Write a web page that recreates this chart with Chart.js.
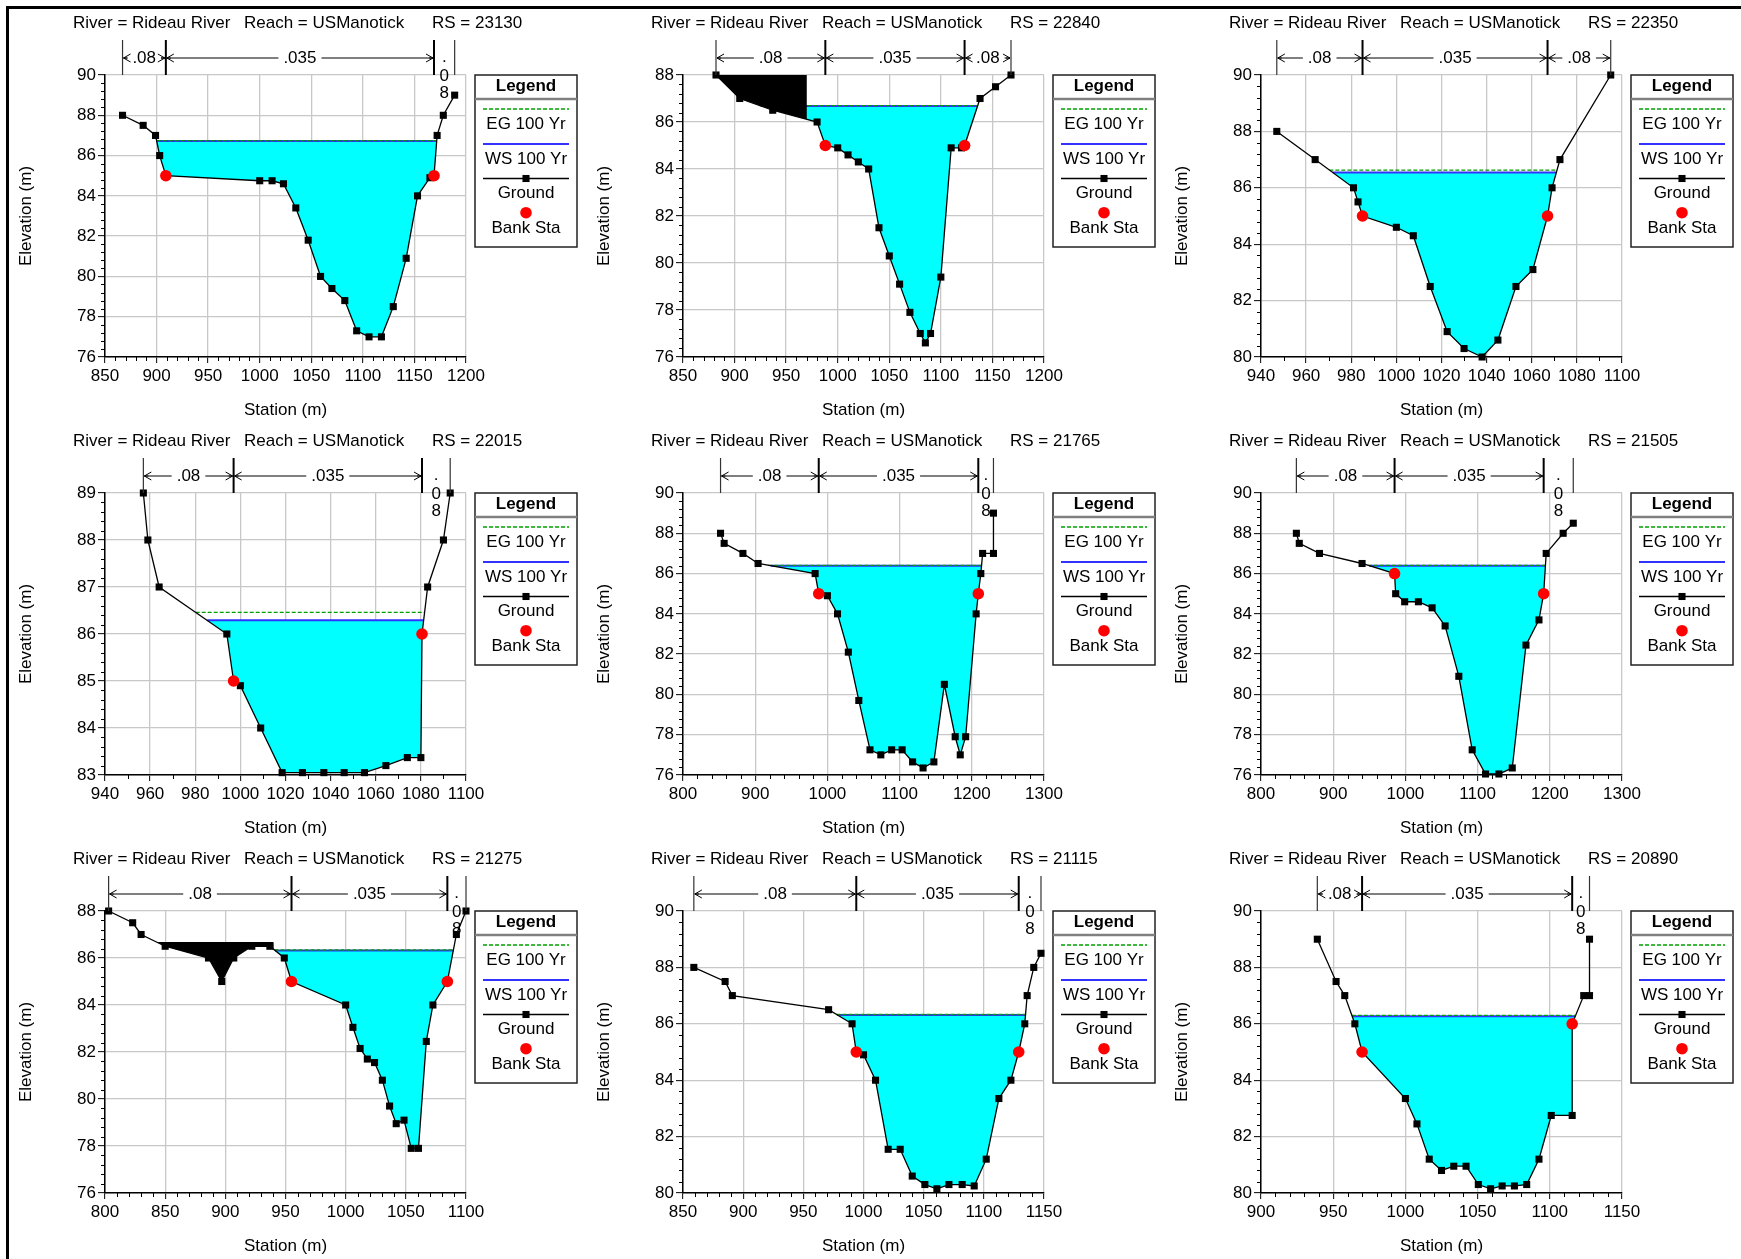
<!DOCTYPE html>
<html lang="en">
<head>
<meta charset="UTF-8">
<title>Rideau River - USManotick cross sections</title>
<script src="https://cdn.jsdelivr.net/npm/chart.js"></script>
<style>
  html, body { margin: 0; padding: 0; background: #fff; }
  #sheet { position: relative; width: 1741px; height: 1259px; overflow: hidden; background: #fff; }
  #frame { position: absolute; left: 6px; top: 6px; width: 1760px; height: 1280px; border-left: 3px solid #000; border-top: 3px solid #000; }
  #sheet canvas { position: absolute; }
</style>
</head>
<body>
<div id="sheet"><div id="frame"></div></div>
<script>
const river = 'Rideau River';
const reach = 'USManotick';
const rsList = ['23130', '22840', '22350', '22015', '21765', '21505', '21275', '21115', '20890'];

// ground profiles, [station, elevation] in m
const ground23130 = [[867, 88], [887, 87.5], [899, 87], [903, 86], [909, 85], [1000, 84.75], [1012, 84.75], [1023, 84.6], [1035, 83.4], [1047, 81.8], [1059, 80], [1070, 79.4], [1082.5, 78.8], [1094, 77.3], [1106, 77], [1118, 77], [1129.5, 78.5], [1142, 80.9], [1153, 84], [1165, 84.9], [1169, 85], [1172, 87], [1178, 88], [1189, 89]];
const ground22840 = [[882, 88], [905, 87], [937, 86.5], [980, 86], [988, 85], [1000, 84.9], [1010, 84.6], [1020, 84.3], [1030, 84], [1040, 81.5], [1050, 80.3], [1060, 79.1], [1070, 77.9], [1080, 77], [1085, 76.6], [1090, 77], [1100, 79.4], [1110, 84.9], [1120, 84.9], [1123, 85], [1138, 87], [1153, 87.5], [1168, 88]];
const ground22350 = [[947, 88], [964, 87], [981, 86], [983, 85.5], [985, 85], [1000, 84.6], [1007.5, 84.3], [1015, 82.5], [1022.5, 80.9], [1030, 80.3], [1038, 80], [1045, 80.6], [1053, 82.5], [1060.5, 83.1], [1067, 85], [1069, 86], [1072.5, 87], [1095, 90]];
const ground22015 = [[957, 89], [959, 88], [964, 87], [994, 86], [997, 85], [1000, 84.9], [1009, 84], [1018.5, 83.05], [1027.5, 83.05], [1037, 83.05], [1046, 83.05], [1055, 83.05], [1064.5, 83.2], [1074, 83.37], [1080, 83.37], [1080.5, 86], [1083, 87], [1090, 88], [1093, 89]];
const ground21765 = [[852, 88], [857, 87.5], [883, 87], [904, 86.5], [983, 86], [988, 85], [1000, 84.9], [1014, 84], [1029, 82.1], [1043.5, 79.7], [1059, 77.25], [1074, 77], [1089, 77.25], [1103.5, 77.25], [1118, 76.65], [1132.5, 76.35], [1147.5, 76.65], [1162, 80.5], [1177, 77.9], [1184, 77], [1191.5, 77.9], [1206, 84], [1209, 85], [1212.5, 86], [1215, 87], [1230, 87], [1230, 89]];
const ground21505 = [[849, 88], [853, 87.5], [881, 87], [940, 86.5], [985, 86], [986.5, 85], [999, 84.6], [1018, 84.6], [1037, 84.3], [1055, 83.4], [1074, 80.9], [1092.5, 77.25], [1111, 76.05], [1129.5, 76.05], [1148, 76.35], [1167, 82.45], [1185, 83.7], [1191.5, 85], [1195, 87], [1218.5, 88], [1232.5, 88.5]];
const ground21275 = [[803, 88], [823, 87.5], [830, 87], [850, 86.5], [886, 86], [897, 85], [907, 86], [922, 86.5], [937, 86.5], [949, 86], [955, 85], [1000, 84], [1006, 83.05], [1012, 82.15], [1018, 81.7], [1024, 81.55], [1030.5, 80.8], [1036.5, 79.7], [1042, 78.95], [1048.5, 79.1], [1054.5, 77.9], [1060.5, 77.9], [1067, 82.45], [1072.5, 84], [1084.5, 85], [1092, 87], [1100, 88]];
const ground21115 = [[859, 88], [885, 87.5], [891, 87], [971, 86.5], [990.5, 86], [994, 85], [1000, 84.9], [1010, 84], [1020.5, 81.55], [1030.5, 81.55], [1040.5, 80.6], [1051, 80.3], [1061, 80.15], [1071, 80.3], [1082, 80.3], [1092, 80.25], [1102, 81.2], [1112.5, 83.35], [1122.5, 84], [1129, 85], [1134, 86], [1136, 87], [1141.5, 88], [1147.5, 88.5]];
const ground20890 = [[939, 89], [952, 87.5], [958, 87], [965, 86], [970, 85], [1000, 83.35], [1008, 82.45], [1016.5, 81.2], [1025, 80.8], [1033.5, 80.95], [1042, 80.95], [1050.5, 80.3], [1059, 80.15], [1067, 80.25], [1075.5, 80.25], [1084, 80.3], [1092.5, 81.2], [1101, 82.75], [1115.5, 82.75], [1115.5, 86], [1123.5, 87], [1127.5, 87], [1127.5, 89]];
const grounds = [ground23130, ground22840, ground22350, ground22015, ground21765, ground21505, ground21275, ground21115, ground20890];

// left / right bank stations, [station, elevation]
const banks = [
  [[909, 85], [1169, 85]],
  [[988, 85], [1123, 85]],
  [[985, 85], [1067, 85]],
  [[997, 85], [1080.5, 86]],
  [[988, 85], [1209, 85]],
  [[985, 86], [1191.5, 85]],
  [[955, 85], [1084.5, 85]],
  [[994, 85], [1129, 85]],
  [[970, 85], [1115.5, 86]]
];

// 100 yr water surface and energy grade elevations
const wsElev = [86.72, 86.68, 86.54, 86.29, 86.39, 86.39, 86.32, 86.31, 86.27];
const egElev = [86.74, 86.70, 86.63, 86.46, 86.41, 86.41, 86.34, 86.33, 86.30];

// Manning's n: left overbank, channel, right overbank
const nValues = ['.08', '.035', '.08'];

// ineffective flow areas [from station, to station, elevation]
const ineffective = [null, [882, 970, 88], null, null, null, null, [842, 940, 86.68], null, null];

// axis ranges, major and minor tick spacing
const xMin = [850, 850, 940, 940, 800, 800, 800, 850, 900];
const xMax = [1200, 1200, 1100, 1100, 1300, 1300, 1100, 1150, 1150];
const xStep = [50, 50, 20, 20, 100, 100, 50, 50, 50];
const xMinor = [10, 10, 10, 10, 20, 20, 10, 10, 10];
const yMin = [76, 76, 80, 83, 76, 76, 76, 80, 80];
const yMax = [90, 88, 90, 89, 90, 90, 88, 90, 90];
const yStep = [2, 2, 2, 1, 2, 2, 2, 2, 2];
const yMinor = [0.4, 0.4, 0.4, 0.2, 0.4, 0.4, 0.4, 0.4, 0.4];

const FAMILY = "'Liberation Sans', Arial, sans-serif";
const FONT = "17px " + FAMILY;
const PANEL_W = 578, PANEL_H = 418;

// station where segment a-b of the ground reaches elevation z
function crossAt(g, a, b, z) {
  const [x1, y1] = g[a], [x2, y2] = g[b];
  if (y1 === y2) return x1;
  return x1 + (z - y1) / (y2 - y1) * (x2 - x1);
}

// wetted extent for a level z, walking out from the lowest ground point
function wetted(g, z) {
  let lo = 0;
  g.forEach((p, k) => { if (p[1] < g[lo][1]) lo = k; });
  let a = lo, b = lo;
  while (a > 0 && g[a - 1][1] < z) a--;
  while (b < g.length - 1 && g[b + 1][1] < z) b++;
  const left = a > 0 ? crossAt(g, a - 1, a, z) : g[0][0];
  const right = b < g.length - 1 ? crossAt(g, b, b + 1, z) : g[g.length - 1][0];
  return { left, right, inner: g.slice(a, b + 1) };
}

function groundAt(g, x) {
  for (let k = 1; k < g.length; k++) {
    if (g[k][0] >= x) {
      const [x1, y1] = g[k - 1], [x2, y2] = g[k];
      return x2 === x1 ? y2 : y1 + (x - x1) / (x2 - x1) * (y2 - y1);
    }
  }
  return g[g.length - 1][1];
}

const pt = ([x, y]) => ({ x, y });

function hline(ctx, x0, x1, y) { ctx.beginPath(); ctx.moveTo(x0, y); ctx.lineTo(x1, y); ctx.stroke(); }
function vline(ctx, x, y0, y1) { ctx.beginPath(); ctx.moveTo(x, y0); ctx.lineTo(x, y1); ctx.stroke(); }
function arrowHead(ctx, x, y, dir) {
  ctx.beginPath();
  ctx.moveTo(x + dir * 8, y - 4);
  ctx.lineTo(x + dir * 1, y);
  ctx.lineTo(x + dir * 8, y + 4);
  ctx.moveTo(x + dir * 1, y);
  ctx.lineTo(x + dir * 5, y);
  ctx.stroke();
}

// header, n-value bar, minor ticks and legend box
function decor(i) {
  return {
    id: 'xsDecor',
    afterDraw(chart) {
      const ctx = chart.ctx;
      const xs = chart.scales.x, ys = chart.scales.y;
      const area = chart.chartArea;
      ctx.save();

      // minor ticks between the labelled ones
      ctx.strokeStyle = '#000';
      ctx.lineWidth = 1;
      ctx.beginPath();
      const nx = Math.round((xMax[i] - xMin[i]) / xMinor[i]);
      const xr = Math.round(xStep[i] / xMinor[i]);
      for (let k = 1; k < nx; k++) {
        if (k % xr === 0) continue;
        const p = Math.round(xs.getPixelForValue(xMin[i] + k * xMinor[i])) + 0.5;
        ctx.moveTo(p, area.bottom); ctx.lineTo(p, area.bottom + 4);
      }
      const ny = Math.round((yMax[i] - yMin[i]) / yMinor[i]);
      const yr = Math.round(yStep[i] / yMinor[i]);
      for (let k = 1; k < ny; k++) {
        if (k % yr === 0) continue;
        const p = Math.round(ys.getPixelForValue(yMin[i] + k * yMinor[i])) + 0.5;
        ctx.moveTo(area.left - 4, p); ctx.lineTo(area.left, p);
      }
      ctx.stroke();

      // header
      ctx.fillStyle = '#000';
      ctx.font = FONT;
      ctx.textAlign = 'left';
      ctx.textBaseline = 'middle';
      ctx.fillText('River = ' + river, 73, 23);
      ctx.fillText('Reach = ' + reach, 244, 23);
      ctx.fillText('RS = ' + rsList[i], 432, 23);

      // Manning's n bar above the plot
      const g = grounds[i];
      const marks = [g[0][0], banks[i][0][0], banks[i][1][0], g[g.length - 1][0]];
      const px = marks.map(v => xs.getPixelForValue(v));
      const barY = 58;
      px.forEach((p, k) => {
        const bank = k === 1 || k === 2;
        ctx.strokeStyle = bank ? '#000' : '#333';
        ctx.lineWidth = bank ? 2 : 1.2;
        vline(ctx, p, 40, area.top);
      });
      ctx.strokeStyle = '#000';
      ctx.lineWidth = 1;
      ctx.textAlign = 'center';
      nValues.forEach((lab, k) => {
        const a = px[k], c = px[k + 1], mid = (a + c) / 2;
        if (c - a < 35) {
          // too narrow: stack the characters
          [...lab].forEach((ch, j) => ctx.fillText(ch, mid, barY + (j ? 2 : -1) + j * 16.6));
          return;
        }
        ctx.fillText(lab, mid, barY);
        const gap = ctx.measureText(lab).width / 2 + 5;
        if (mid - gap > a + 1) hline(ctx, a + 1, mid - gap, barY);
        if (c - 1 > mid + gap) hline(ctx, mid + gap, c - 1, barY);
        arrowHead(ctx, a, barY, 1);
        arrowHead(ctx, c, barY, -1);
      });

      // legend box
      const ds = label => chart.data.datasets.find(d => d.label === label);
      const L = 475, R = 577, T = 75, B = 247, cx = (L + R) / 2, s0 = 483, s1 = 569;
      ctx.fillStyle = '#fff';
      ctx.fillRect(L, T, R - L, B - T);
      ctx.strokeStyle = '#222';
      ctx.lineWidth = 1.5;
      ctx.strokeRect(L, T, R - L, B - T);
      ctx.strokeStyle = '#808080';
      ctx.lineWidth = 2.5;
      hline(ctx, L, R, 99);
      ctx.fillStyle = '#000';
      ctx.font = 'bold ' + FONT;
      ctx.fillText('Legend', cx, 86);
      ctx.font = FONT;

      const eg = ds('EG 100 Yr');
      ctx.strokeStyle = eg.borderColor;
      ctx.lineWidth = eg.borderWidth;
      ctx.setLineDash(eg.borderDash);
      hline(ctx, s0, s1, 109);
      ctx.setLineDash([]);
      ctx.fillText(eg.label, cx, 124);

      const ws = ds('WS 100 Yr');
      ctx.strokeStyle = ws.borderColor;
      ctx.lineWidth = ws.borderWidth;
      hline(ctx, s0, s1, 144);
      ctx.fillText(ws.label, cx, 159);

      const gr = ds('Ground');
      ctx.strokeStyle = gr.borderColor;
      ctx.lineWidth = gr.borderWidth;
      hline(ctx, s0, s1, 178.5);
      ctx.fillStyle = gr.pointBackgroundColor;
      const sq = gr.pointRadius * Math.SQRT1_2;
      ctx.fillRect(cx - sq, 178.5 - sq, 2 * sq, 2 * sq);
      ctx.fillStyle = '#000';
      ctx.fillText(gr.label, cx, 193.5);

      const bk = ds('Bank Sta');
      ctx.fillStyle = bk.backgroundColor;
      ctx.beginPath();
      ctx.arc(cx, 212.7, bk.pointRadius, 0, Math.PI * 2);
      ctx.fill();
      ctx.fillStyle = '#000';
      ctx.fillText(bk.label, cx, 228.5);

      ctx.restore();
    }
  };
}

const sheet = document.getElementById('sheet');

function makePanel(i) {
  const canvas = document.createElement('canvas');
  canvas.width = PANEL_W;
  canvas.height = 421;
  canvas.style.left = (i % 3) * PANEL_W + 'px';
  canvas.style.top = Math.floor(i / 3) * PANEL_H + 'px';
  sheet.appendChild(canvas);

  const g = grounds[i];
  const wet = wetted(g, wsElev[i]);
  const egWet = wetted(g, egElev[i]);
  const water = [{ x: wet.left, y: wsElev[i] }, ...wet.inner.map(pt), { x: wet.right, y: wsElev[i] }];

  const datasets = [
    { label: 'Bank Sta', data: banks[i].map(pt), showLine: false, pointStyle: 'circle', pointRadius: 5.8,
      backgroundColor: '#ff0000', pointBackgroundColor: '#ff0000', pointBorderWidth: 0, clip: false, order: 0 },
    { label: 'Ground', data: g.map(pt), showLine: true, borderColor: '#000', borderWidth: 1.3,
      pointStyle: 'rect', pointRadius: 5, pointBackgroundColor: '#000', pointBorderWidth: 0, clip: false, order: 1 },
    { label: 'EG 100 Yr', data: [{ x: egWet.left, y: egElev[i] }, { x: egWet.right, y: egElev[i] }], showLine: true,
      borderColor: '#00a000', borderWidth: 1.3, borderDash: [4, 2], pointRadius: 0, order: 3 },
    { label: 'WS 100 Yr', data: [{ x: wet.left, y: wsElev[i] }, { x: wet.right, y: wsElev[i] }], showLine: true,
      borderColor: '#3232ff', borderWidth: 2, pointRadius: 0, order: 4 },
    { label: 'water', data: water, showLine: true, borderWidth: 0, pointRadius: 0,
      fill: 'shape', backgroundColor: '#00ffff', order: 5 }
  ];

  const ia = ineffective[i];
  if (ia) {
    const [from, to, elev] = ia;
    const under = g.filter(p => p[0] > from && p[0] < to).reverse().map(pt);
    datasets.push({ label: 'ineffective', data: [{ x: from, y: elev }, { x: to, y: elev }, { x: to, y: groundAt(g, to) },
      ...under, { x: from, y: groundAt(g, from) }], showLine: true, borderWidth: 0, pointRadius: 0,
      fill: 'shape', backgroundColor: '#000', order: 2 });
  }

  const tickFont = { family: FAMILY, size: 17 };
  new Chart(canvas, {
    type: 'scatter',
    data: { datasets },
    options: {
      responsive: false,
      animation: false,
      devicePixelRatio: 1,
      events: [],
      layout: { padding: { top: 75, right: 112, bottom: 0, left: 0 } },
      plugins: { legend: { display: false }, tooltip: { enabled: false } },
      scales: {
        x: {
          type: 'linear', min: xMin[i], max: xMax[i],
          ticks: { stepSize: xStep[i], font: tickFont, color: '#000', padding: 3, maxRotation: 0, autoSkip: false,
            callback: v => String(v) },
          grid: { color: '#c8c8c8', lineWidth: 1.3, tickColor: '#000', tickLength: 6, tickWidth: 1 },
          border: { color: '#000', width: 1.5 },
          title: { display: true, text: 'Station (m)', font: tickFont, color: '#000', padding: { top: 0, bottom: 0 } },
          afterFit(s) { s.height = 64; }
        },
        y: {
          type: 'linear', min: yMin[i], max: yMax[i],
          ticks: { stepSize: yStep[i], font: tickFont, color: '#000', padding: 2, autoSkip: false,
            callback: v => String(v) },
          grid: { color: '#c8c8c8', lineWidth: 1.3, tickColor: '#000', tickLength: 7, tickWidth: 1 },
          border: { color: '#000', width: 1.5 },
          title: { display: true, text: 'Elevation (m)', font: tickFont, color: '#000', padding: { top: 16, bottom: 0 } },
          afterFit(s) { s.width = 105; }
        }
      }
    },
    plugins: [decor(i)]
  });
}

for (let i = 0; i < rsList.length; i++) makePanel(i);
</script>
</body>
</html>
